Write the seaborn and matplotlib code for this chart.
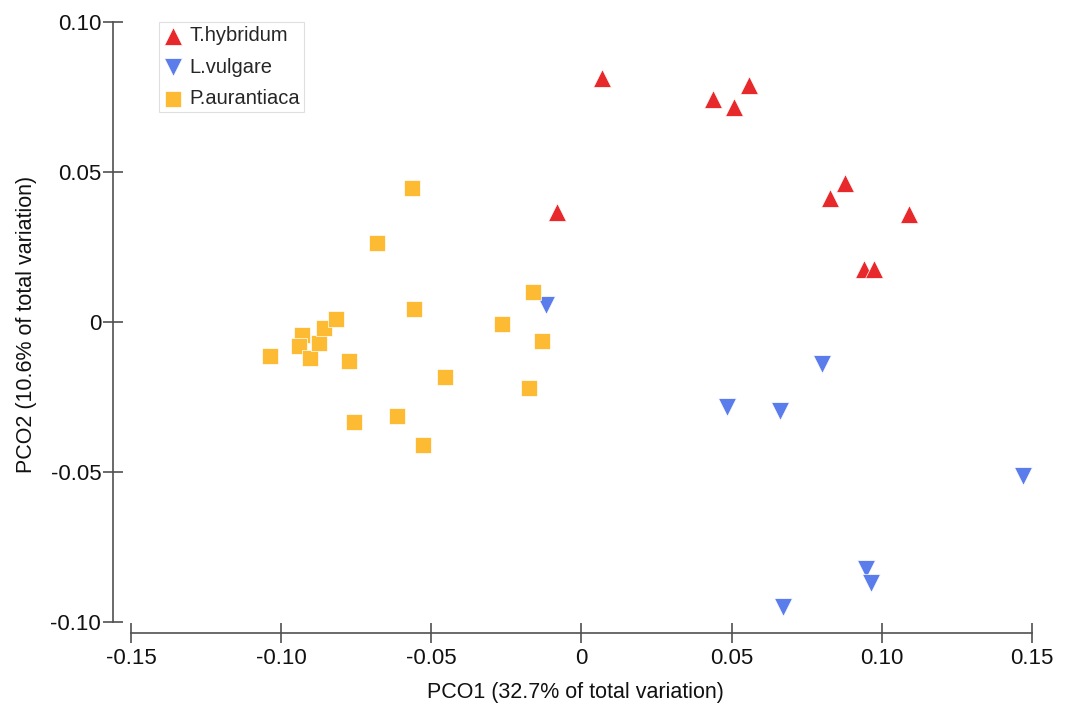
import matplotlib
matplotlib.use("Agg")
import matplotlib.pyplot as plt
import seaborn as sns
import pandas as pd

# ---- data ----
species = ["T.hybridum", "L.vulgare", "P.aurantiaca"]

th_x = [0.0068, -0.0081, 0.0439, 0.0508, 0.0559, 0.0828, 0.0877, 0.1092, 0.0940, 0.0975]
th_y = [0.0814, 0.0369, 0.0745, 0.0719, 0.0792, 0.0414, 0.0466, 0.0362, 0.0178, 0.0178]

lv_x = [-0.0119, 0.0801, 0.0485, 0.0662, 0.1470, 0.0947, 0.0965, 0.0672]
lv_y = [0.0058, -0.0139, -0.0283, -0.0294, -0.0512, -0.0823, -0.0867, -0.0947]

pa_x = [-0.1038, -0.0929, -0.0942, -0.0903, -0.0874, -0.0857, -0.0819, -0.0774,
        -0.0564, -0.0680, -0.0161, -0.0557, -0.0264, -0.0133, -0.0455, -0.0174,
        -0.0757, -0.0615, -0.0529]
pa_y = [-0.0112, -0.0042, -0.0078, -0.0117, -0.0067, -0.0017, 0.0013, -0.0127,
        0.0449, 0.0264, 0.0103, 0.0045, -0.0006, -0.0061, -0.0183, -0.0219,
        -0.0331, -0.0311, -0.0408]

x_ticks = [-0.15, -0.10, -0.05, 0, 0.05, 0.10, 0.15]
x_ticklabels = ["-0.15", "-0.10", "-0.05", "0", "0.05", "0.10", "0.15"]
y_ticks = [-0.10, -0.05, 0, 0.05, 0.10]
y_ticklabels = ["-0.10", "-0.05", "0", "0.05", "0.10"]

x_label = "PCO1 (32.7% of total variation)"
y_label = "PCO2 (10.6% of total variation)"

# ---- styling ----
sns.set_theme(style="white")
plt.rcParams["font.family"] = ["Liberation Sans", "DejaVu Sans"]

colors = {"T.hybridum": "#E8292B", "L.vulgare": "#5B7DEB", "P.aurantiaca": "#FDBB33"}
markers = {"T.hybridum": "^", "L.vulgare": "v", "P.aurantiaca": "s"}
msize = {"T.hybridum": 165, "L.vulgare": 165, "P.aurantiaca": 118}

df = pd.concat([
    pd.DataFrame({"x": th_x, "y": th_y, "species": species[0]}),
    pd.DataFrame({"x": lv_x, "y": lv_y, "species": species[1]}),
    pd.DataFrame({"x": pa_x, "y": pa_y, "species": species[2]}),
], ignore_index=True)

fig = plt.figure(figsize=(10.73, 7.04), dpi=100)
ax = fig.add_axes([0.1053, 0.1009, 0.862, 0.8757])

for sp in species:
    sub = df[df["species"] == sp]
    sns.scatterplot(data=sub, x="x", y="y", ax=ax, marker=markers[sp],
                    color=colors[sp], s=msize[sp], edgecolor="white",
                    linewidth=0.5, label=sp, zorder=3)

ax.set_xlim(-0.156, 0.152)
ax.set_ylim(-0.1035, 0.102)

spine_col = "#505050"
for side in ["top", "right"]:
    ax.spines[side].set_visible(False)
for side in ["left", "bottom"]:
    ax.spines[side].set_color(spine_col)
    ax.spines[side].set_linewidth(1.2)
ax.spines["left"].set_bounds(-0.10, 0.10)
ax.spines["bottom"].set_bounds(-0.15, 0.15)

ax.set_xticks(x_ticks)
ax.set_xticklabels(x_ticklabels)
ax.set_yticks(y_ticks)
ax.set_yticklabels(y_ticklabels)
ax.tick_params(axis="both", which="major", bottom=True, left=True,
               top=False, right=False, direction="inout", length=14,
               width=1.2, color=spine_col, labelsize=16,
               labelcolor="#111111", pad=1.5)
ax.tick_params(axis="x", pad=3.5)

ax.set_xlabel(x_label, fontsize=15.5, color="#111111", labelpad=10)
ax.set_ylabel(y_label, fontsize=15.5, color="#111111", labelpad=10)

leg = ax.legend(loc="upper left", bbox_to_anchor=(0.0497, 0.991),
                borderaxespad=0, frameon=True, fancybox=False,
                fontsize=14.5, handlelength=1.0, handletextpad=0.3,
                labelspacing=0.63, borderpad=0.2, edgecolor="#d8d8d8")
leg.get_frame().set_linewidth(0.8)

fig.savefig("out.png", dpi=100, facecolor="white")
